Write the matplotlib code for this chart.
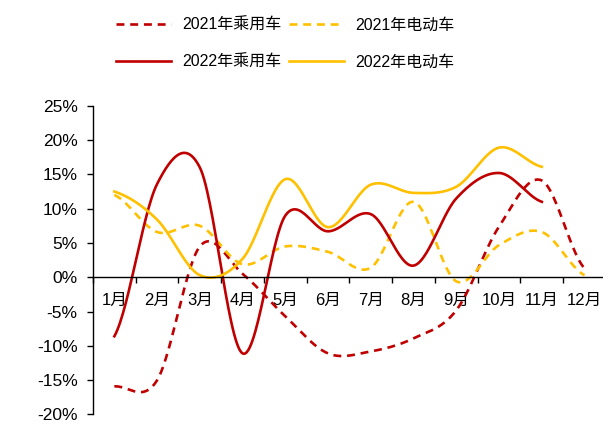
import numpy as np
import matplotlib
matplotlib.use("Agg")
import matplotlib.pyplot as plt
from matplotlib.ticker import FixedLocator, FuncFormatter

plt.rcParams['font.family'] = ['Liberation Sans', 'Noto Sans CJK SC', 'DejaVu Sans']

# === Daten ===
months = ["1月", "2月", "3月", "4月", "5月", "6月", "7月", "8月", "9月", "10月", "11月", "12月"]
car_2021 = [-15.9, -15.0, 4.5, 0.5, -5.7, -11.1, -10.8, -8.9, -4.8, 7.4, 14.1, 1.3]
ev_2021 = [12.0, 6.6, 7.5, 1.9, 4.5, 3.7, 1.4, 11.0, -0.6, 4.7, 6.6, 0.3]
car_2022 = [-8.6, 13.6, 16.0, -11.1, 9.0, 6.7, 9.2, 1.7, 11.5, 15.2, 11.0]
ev_2022 = [12.5, 8.4, 0.3, 2.7, 14.3, 7.3, 13.5, 12.3, 13.2, 18.9, 16.1]

RED = "#C00000"
YELLOW = "#FFC000"


def smooth(vals, n=30):
    # geglättete Linie (Catmull-Rom, wie Excel "Linie glätten")
    y = np.asarray(vals, dtype=float)
    m = len(y)
    xs, ys = [], []
    for i in range(m - 1):
        p0 = y[i - 1] if i > 0 else y[i]
        p1, p2 = y[i], y[i + 1]
        p3 = y[i + 2] if i + 2 < m else y[i + 1]
        m1 = (p2 - p0) / 2
        m2 = (p3 - p1) / 2
        t = np.linspace(0, 1, n, endpoint=(i == m - 2))
        h00 = 2 * t**3 - 3 * t**2 + 1
        h10 = t**3 - 2 * t**2 + t
        h01 = -2 * t**3 + 3 * t**2
        h11 = t**3 - t**2
        xs.append(i + t)
        ys.append(h00 * p1 + h10 * m1 + h01 * p2 + h11 * m2)
    return np.concatenate(xs), np.concatenate(ys)


fig = plt.figure(figsize=(6.03, 4.23), dpi=100)
ax = fig.add_axes([0.1542, 0.0201, 0.8507, 0.7299])

lw = 1.9
x, y = smooth(car_2021)
l1, = ax.plot(x, y, color=RED, lw=lw, dashes=(3, 2.2), label="2021年乘用车")
x, y = smooth(ev_2021)
l2, = ax.plot(x, y, color=YELLOW, lw=lw, dashes=(3, 2.2), label="2021年电动车")
x, y = smooth(car_2022)
l3, = ax.plot(x, y, color=RED, lw=lw, label="2022年乘用车")
x, y = smooth(ev_2022)
l4, = ax.plot(x, y, color=YELLOW, lw=lw, label="2022年电动车")

ax.set_xlim(-0.5, 11.5)
ax.set_ylim(-20, 25)

ax.spines['top'].set_visible(False)
ax.spines['right'].set_visible(False)
ax.spines['bottom'].set_position(('data', 0))
ax.spines['left'].set_linewidth(1.0)
ax.spines['bottom'].set_linewidth(1.0)

ax.set_yticks(np.arange(-20, 26, 5))
ax.yaxis.set_major_formatter(FuncFormatter(lambda v, p: f"{v:.0f}%"))
ax.tick_params(axis='y', direction='out', length=4, width=1, labelsize=12.5, pad=7)

ax.set_xticks(range(len(months)))
ax.set_xticklabels(months)
ax.xaxis.set_minor_locator(FixedLocator(np.arange(-0.5, 12, 1)))
ax.tick_params(axis='x', which='major', length=0, labelsize=12, pad=11)
ax.tick_params(axis='x', which='minor', direction='out', length=4, width=1)

fig.legend([l1, l3, l2, l4], [l1.get_label(), l3.get_label(), l2.get_label(), l4.get_label()],
           ncol=2, loc='center', bbox_to_anchor=(0.473, 0.897), frameon=False,
           fontsize=11.5, handlelength=3.45, handletextpad=0.7, columnspacing=0.5,
           labelspacing=1.35)

plt.savefig("out.png", dpi=100)
plt.close()
